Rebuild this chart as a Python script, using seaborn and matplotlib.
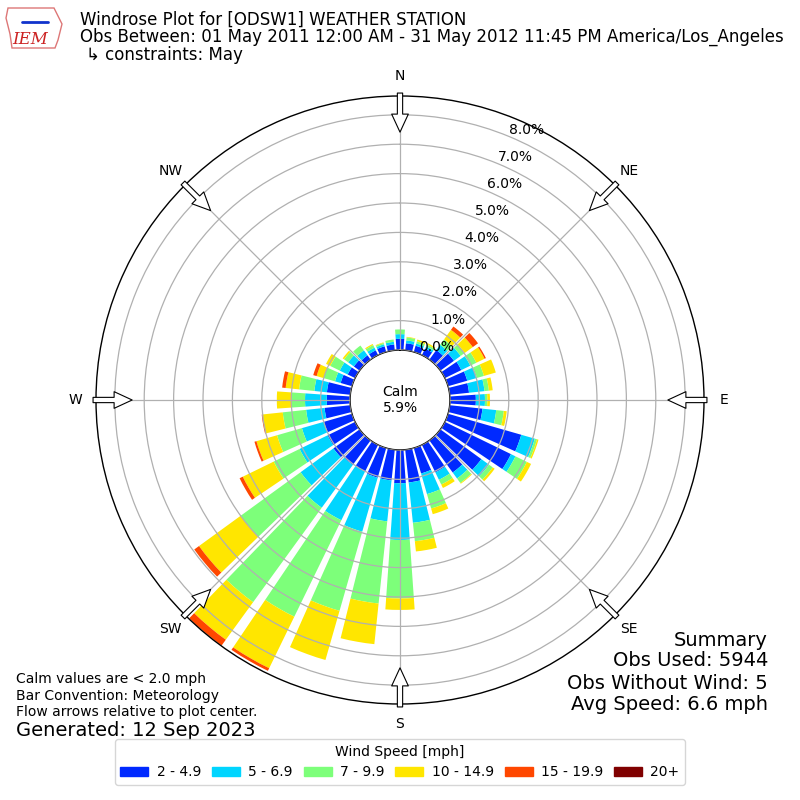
import numpy as np
import matplotlib
matplotlib.use("Agg")
import matplotlib.pyplot as plt
import matplotlib.patches as mpatches
import seaborn as sns

# wind direction (deg, where the wind comes from) and percent of obs per speed bin
directions = list(range(0, 360, 10))
speed_bins = ["2 - 4.9", "5 - 6.9", "7 - 9.9", "10 - 14.9", "15 - 19.9", "20+"]

pct_2_5 = [0.38, 0.24, 0.22, 0.25, 0.40, 0.57, 0.62, 0.68, 0.66, 0.88, 1.12, 2.59,
           2.50, 1.72, 1.35, 1.04, 0.90, 1.12, 1.13, 1.05, 1.05, 1.00, 1.03, 1.10,
           1.04, 0.99, 0.88, 0.79, 0.80, 0.40, 0.28, 0.24, 0.18, 0.18, 0.20, 0.20]
pct_5_7 = [0.16, 0.10, 0.08, 0.08, 0.22, 0.28, 0.34, 0.34, 0.53, 0.31, 0.47, 0.48,
           0.17, 0.32, 0.25, 0.28, 0.73, 1.38, 1.93, 1.40, 1.91, 1.85, 1.80, 1.38,
           1.06, 0.78, 0.63, 0.74, 0.43, 0.20, 0.30, 0.24, 0.21, 0.10, 0.07, 0.09]
pct_7_10 = [0.16, 0.10, 0.08, 0.07, 0.23, 0.17, 0.23, 0.25, 0.15, 0.08, 0.26, 0.08,
            0.43, 0.16, 0.19, 0.18, 0.51, 0.63, 1.99, 2.81, 2.80, 3.65, 3.97, 2.52,
            0.98, 0.88, 0.80, 0.45, 0.52, 0.40, 0.36, 0.17, 0.20, 0.10, 0.05, 0.08]
pct_10_15 = [0.00, 0.02, 0.06, 0.05, 0.40, 0.34, 0.31, 0.42, 0.13, 0.09, 0.10, 0.05,
             0.16, 0.08, 0.03, 0.13, 0.20, 0.35, 0.39, 1.39, 1.74, 1.95, 1.58, 1.75,
             1.17, 0.73, 0.69, 0.51, 0.46, 0.25, 0.16, 0.06, 0.00, 0.04, 0.02, 0.00]
pct_15_20 = [0.00, 0.00, 0.00, 0.00, 0.14, 0.22, 0.05, 0.00, 0.00, 0.00, 0.00, 0.00,
             0.00, 0.00, 0.00, 0.00, 0.00, 0.00, 0.00, 0.00, 0.00, 0.10, 0.24, 0.20,
             0.12, 0.07, 0.03, 0.00, 0.12, 0.12, 0.00, 0.00, 0.00, 0.00, 0.00, 0.00]
pct_20_up = [0.0] * 36

calm_pct = 5.9
r_ticks = [0, 1, 2, 3, 4, 5, 6, 7, 8]
cardinals = ["N", "NE", "E", "SE", "S", "SW", "W", "NW"]

sns.set_style("white", {"axes.edgecolor": "black", "text.color": "black",
                        "xtick.color": "black", "ytick.color": "black"})
plt.rcParams['font.family'] = ['DejaVu Sans']

colors = plt.get_cmap("jet")(np.linspace(0, 1, 7)[1:])

fig = plt.figure(figsize=(8, 8), dpi=100)
ax = fig.add_axes([0.12, 0.12, 0.76, 0.76], projection="polar")
ax.set_theta_zero_location("N")
ax.set_theta_direction(-1)
ax.set_axisbelow(False)

theta = np.deg2rad(directions)
width = np.deg2rad(10) * 0.8
bottom = np.zeros(len(directions))
for vals, col, lab in zip([pct_2_5, pct_5_7, pct_7_10, pct_10_15, pct_15_20, pct_20_up],
                          colors, speed_bins):
    vals = np.array(vals)
    ax.bar(theta, vals, width=width, bottom=bottom, color=col, linewidth=0,
           label=lab, zorder=2)
    bottom = bottom + vals

ax.set_ylim(0, 8.64)
ax.set_rorigin(-1.70)
ax.set_yticks(r_ticks)
ax.set_yticklabels([f"{t:.1f}%" for t in r_ticks], fontsize=10)
ax.set_rlabel_position(22.5)
ax.set_xticks(np.deg2rad(np.arange(0, 360, 45)))
ax.set_xticklabels(cardinals, fontsize=10)
ax.tick_params(axis="x", pad=4)
ax.grid(True, color="#b0b0b0", linewidth=0.9)
for sp in ax.spines.values():
    sp.set_color("black")
    sp.set_linewidth(1)

# flow arrows on the outer ring, pointing to the center
for d in range(0, 360, 45):
    t = np.deg2rad(d)
    ax.annotate("", xy=(t, 7.41), xytext=(t, 8.74),
                arrowprops=dict(facecolor="white", edgecolor="black", width=3.8,
                                headwidth=12, headlength=13, shrink=0.0, lw=0.8),
                zorder=6, annotation_clip=False)

fig.text(0.5, 0.5, f"Calm\n{calm_pct:.1f}%", ha="center", va="center", fontsize=10)

# header, with a rough stand-in for the IEM logo
logo = [(8, 8), (54, 8), (57, 14), (62, 24), (58, 40), (55, 48), (12, 48), (10, 34), (6, 18)]
fig.patches.append(mpatches.Polygon([(x / 800, 1 - y / 800) for x, y in logo], closed=True,
                                    fill=False, edgecolor="#d77", lw=1,
                                    transform=fig.transFigure))
fig.lines.append(plt.Line2D([22 / 800, 48 / 800], [1 - 22 / 800, 1 - 22 / 800],
                            color="#1133cc", lw=2, transform=fig.transFigure))
fig.text(0.038, 0.951, "IEM", fontsize=12, color="#cc2222", family="serif",
         style="italic", ha="center", va="center")
fig.text(0.1, 0.975, "Windrose Plot for [ODSW1] WEATHER STATION", fontsize=12, va="center")
fig.text(0.1, 0.954, "Obs Between: 01 May 2011 12:00 AM - 31 May 2012 11:45 PM America/Los_Angeles",
         fontsize=12, va="center")
fig.text(0.108, 0.931, "\u21b3 constraints: May", fontsize=12, va="center")

# footer
fig.text(0.02, 0.151, "Calm values are < 2.0 mph", fontsize=10, va="center")
fig.text(0.02, 0.130, "Bar Convention: Meteorology", fontsize=10, va="center")
fig.text(0.02, 0.110, "Flow arrows relative to plot center.", fontsize=10, va="center")
fig.text(0.02, 0.0875, "Generated: 12 Sep 2023", fontsize=14, va="center")

fig.text(0.96, 0.200, "Summary", fontsize=14, ha="right", va="center")
fig.text(0.96, 0.174, "Obs Used: 5944", fontsize=14, ha="right", va="center")
fig.text(0.96, 0.146, "Obs Without Wind: 5", fontsize=14, ha="right", va="center")
fig.text(0.96, 0.119, "Avg Speed: 6.6 mph", fontsize=14, ha="right", va="center")

handles = [mpatches.Patch(color=c, label=l) for c, l in zip(colors, speed_bins)]
fig.legend(handles=handles, loc="lower center", bbox_to_anchor=(0.5, 0.01), ncol=6,
           title="Wind Speed [mph]", fontsize=10, title_fontsize=10,
           handlelength=2, handleheight=0.6, handletextpad=0.6, columnspacing=0.8)

fig.savefig("out.png", dpi=100)
